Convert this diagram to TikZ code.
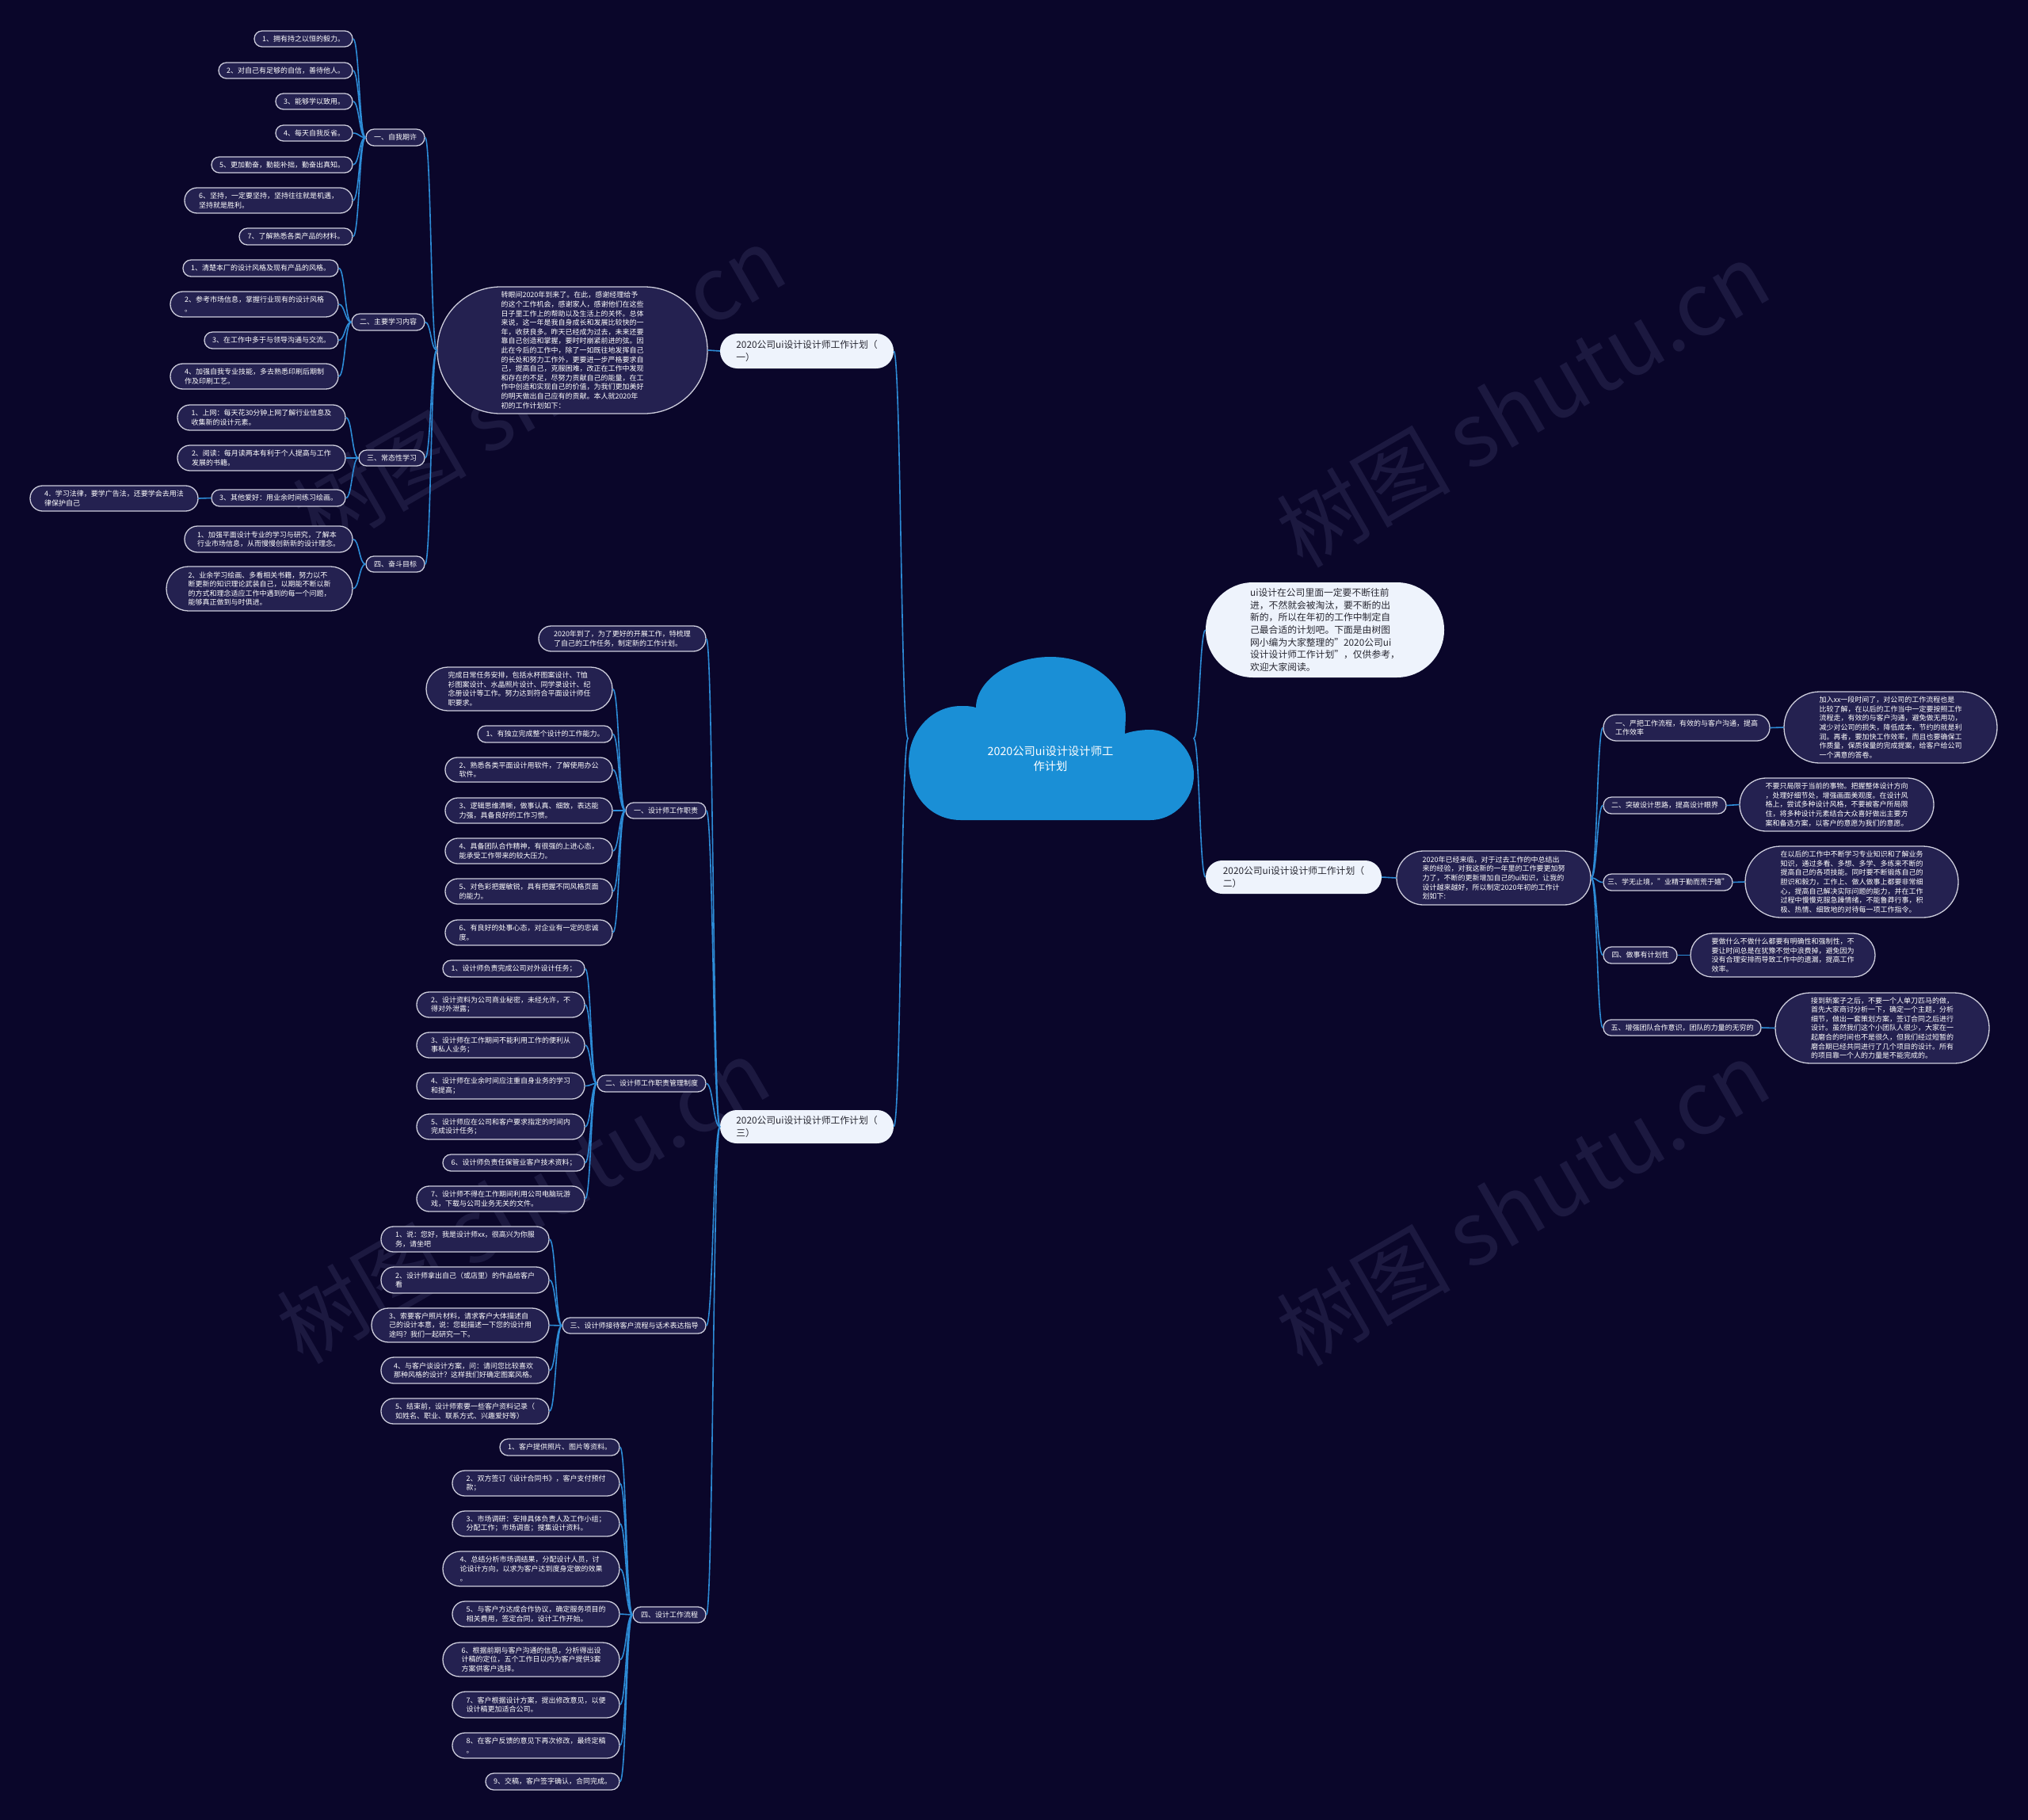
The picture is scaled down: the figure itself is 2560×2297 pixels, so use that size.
\documentclass[tikz,border=0pt]{standalone}
\usepackage{fontspec}
\setmainfont{Noto Sans CJK SC}
\usetikzlibrary{calc}
\definecolor{bg}{RGB}{10,6,42}
\definecolor{leaffill}{RGB}{36,33,80}
\definecolor{leafdraw}{RGB}{205,205,220}
\definecolor{conncol}{RGB}{45,140,215}
\definecolor{whitefill}{RGB}{238,243,252}
\definecolor{darktext}{RGB}{40,40,50}
\definecolor{cloudcol}{RGB}{26,143,214}
\definecolor{wmcol}{RGB}{28,25,64}
\tikzset{
 leaf/.style={draw=leafdraw, line width=1.3pt, fill=leaffill, text=white, align=left, inner xsep=2pt, inner ysep=1pt, font=\fontsize{9}{11.6}\selectfont},
 wbox/.style={draw=none, fill=whitefill, text=darktext, align=left, inner xsep=2pt, inner ysep=1pt, font=\fontsize{11.8}{15.7}\selectfont},
 conn/.style={draw=conncol, line width=1.6pt},
 wmark/.style={rotate=30, text=wmcol, font=\fontsize{110}{110}\selectfont},
}
\newcommand\pill[7]{%
  \pgfmathsetmacro\pw{#5-#3}%
  \pgfmathsetmacro\ph{#6-#4}%
  \pgfmathsetmacro\pr{\ph/2-0.2}%
  \pgfmathsetmacro\pcx{(#3+#5)/2}%
  \pgfmathsetmacro\pcy{(#4+#6)/2}%
  \node[#2, minimum width=\pw pt, minimum height=\ph pt, rounded corners=\pr pt] (#1) at (\pcx,\pcy) {#7};}
\newcommand\mmconn[2]{\draw[conn] let \p1=(#1), \p2=(#2) in (\p1) .. controls ({0.5*\x1+0.5*\x2},\y1) and ({0.5*\x1+0.5*\x2},\y2) .. (\p2);}
\begin{document}
\begin{tikzpicture}[x=1pt,y=-1pt]
\useasboundingbox (0,0) rectangle (2560,2297);
\fill[bg] (0,0) rectangle (2560,2297);
% watermarks
\node[wmark] (wm1) at (680,490) {树图 shutu.cn};
\node[wmark] (wm2) at (1922,510) {树图 shutu.cn};
\node[wmark] (wm3) at (660,1515) {树图 shutu.cn};
\node[wmark] (wm4) at (1922,1518) {树图 shutu.cn};

% cloud
\fill[cloudcol] (1213,1035) -- (1452,1035)
  .. controls (1482,1035) and (1507,1009) .. (1507,978)
  .. controls (1507,947) and (1482,921) .. (1452,921)
  .. controls (1440,921) and (1428,923) .. (1420,926)
  -- (1421,905)
  .. controls (1421,863) and (1378,829) .. (1326,829)
  .. controls (1274,829) and (1232,860) .. (1232,893)
  .. controls (1225,891) and (1220,891) .. (1213,891)
  .. controls (1176,891) and (1147,923) .. (1147,962)
  .. controls (1147,1002) and (1173,1035) .. (1213,1035) -- cycle;
\node[minimum width=360pt, minimum height=206pt, inner sep=0pt] (root) at (1326.5,932) {};
\node[text=white, align=center, font=\fontsize{14.3}{19}\selectfont] (roottext) at (1326,958) {2020公司ui设计设计师工\\作计划};

% ---------- plan 1 ----------
\pill{P1}{wbox}{909}{421}{1128}{465}{2020公司ui设计设计师工作计划（\\一）}
\pill{pA}{leaf}{552}{362}{893}{522}{转眼间2020年到来了。在此，感谢经理给予\\的这个工作机会，感谢家人，感谢他们在这些\\日子里工作上的帮助以及生活上的关怀。总体\\来说，这一年是我自身成长和发展比较快的一\\年，收获良多。昨天已经成为过去，未来还要\\靠自己创造和掌握，要时时崩紧前进的弦。因\\此在今后的工作中，除了一如既往地发挥自己\\的长处和努力工作外，更要进一步严格要求自\\己，提高自己，克服困难，改正在工作中发现\\和存在的不足，尽努力贡献自己的能量，在工\\作中创造和实现自己的价值，为我们更加美好\\的明天做出自己应有的贡献。本人就2020年\\初的工作计划如下：}

\pill{a1}{leaf}{462}{163}{536}{184}{一、自我期许}
\pill{a1a}{leaf}{321}{39}{445}{59}{1、拥有持之以恒的毅力。}
\pill{a1b}{leaf}{276}{79}{445}{99}{2、对自己有足够的自信，善待他人。}
\pill{a1c}{leaf}{348}{118}{445}{138}{3、能够学以致用。}
\pill{a1d}{leaf}{348}{158}{445}{178}{4、每天自我反省。}
\pill{a1e}{leaf}{267}{198}{445}{218}{5、更加勤奋，勤能补拙，勤奋出真知。}
\pill{a1f}{leaf}{233}{237}{445}{269}{6、坚持，一定要坚持，坚持往往就是机遇，\\坚持就是胜利。}
\pill{a1g}{leaf}{302}{288}{445}{309}{7、了解熟悉各类产品的材料。}

\pill{a2}{leaf}{444}{396}{536}{417}{二、主要学习内容}
\pill{a2a}{leaf}{231}{328}{427}{349}{1、清楚本厂的设计风格及现有产品的风格。}
\pill{a2b}{leaf}{215}{368}{427}{400}{2、参考市场信息，掌握行业现有的设计风格\\。}
\pill{a2c}{leaf}{258}{419}{427}{440}{3、在工作中多于与领导沟通与交流。}
\pill{a2d}{leaf}{215}{459}{427}{491}{4、加强自我专业技能，多去熟悉印刷后期制\\作及印刷工艺。}

\pill{a3}{leaf}{453}{568}{536}{588}{三、常态性学习}
\pill{a3a}{leaf}{224}{511}{436}{543}{1、上网：每天花30分钟上网了解行业信息及\\收集新的设计元素。}
\pill{a3b}{leaf}{224}{562}{436}{594}{2、阅读：每月读两本有利于个人提高与工作\\发展的书籍。}
\pill{a3c}{leaf}{267}{618}{436}{639}{3、其他爱好：用业余时间练习绘画。}
\pill{a3d}{leaf}{38}{613}{250}{645}{4．学习法律，要学广告法，还要学会去用法\\律保护自己}

\pill{a4}{leaf}{462}{702}{536}{722}{四、奋斗目标}
\pill{a4a}{leaf}{233}{664}{445}{697}{1、加强平面设计专业的学习与研究，了解本\\行业市场信息，从而慢慢创新新的设计理念。}
\pill{a4b}{leaf}{210}{715}{445}{771}{2、业余学习绘画、多看相关书籍，努力以不\\断更新的知识理论武装自己，以期能不断以新\\的方式和理念适应工作中遇到的每一个问题，\\能够真正做到与时俱进。}

% ---------- right ----------
\pill{uiN}{wbox}{1522}{735}{1823}{855}{ui设计在公司里面一定要不断往前\\进，不然就会被淘汰，要不断的出\\新的，所以在年初的工作中制定自\\己最合适的计划吧。下面是由树图\\网小编为大家整理的"2020公司ui\\设计设计师工作计划"，仅供参考，\\欢迎大家阅读。}
\pill{P2}{wbox}{1522}{1086}{1744}{1128}{2020公司ui设计设计师工作计划（\\二）}
\pill{pB}{leaf}{1763}{1074}{2008}{1142}{2020年已经来临，对于过去工作的中总结出\\来的经验，对我这新的一年里的工作要更加努\\力了，不断的更新增加自己的ui知识，让我的\\设计越来越好，所以制定2020年初的工作计\\划如下:}
\pill{b1}{leaf}{2024}{902}{2234}{935}{一、严把工作流程，有效的与客户沟通，提高\\工作效率}
\pill{b1d}{leaf}{2252}{873}{2521}{963}{加入xx一段时间了，对公司的工作流程也是\\比较了解，在以后的工作当中一定要按照工作\\流程走，有效的与客户沟通，避免做无用功，\\减少对公司的损失，降低成本，节约的就是利\\润。再者，要加快工作效率，而且也要确保工\\作质量，保质保量的完成提案，给客户给公司\\一个满意的答卷。}
\pill{b2}{leaf}{2024}{1006}{2179}{1027}{二、突破设计思路，提高设计眼界}
\pill{b2d}{leaf}{2196}{982}{2441}{1049}{不要只局限于当前的事物。把握整体设计方向\\，处理好细节处，增强画面美观度。在设计风\\格上，尝试多种设计风格，不要被客户所局限\\住，将多种设计元素结合大众喜好做出主要方\\案和备选方案，以客户的意愿为我们的意愿。}
\pill{b3}{leaf}{2024}{1103}{2187}{1124}{三、学无止境，"业精于勤而荒于嬉"}
\pill{b3d}{leaf}{2203}{1068}{2472}{1158}{在以后的工作中不断学习专业知识和了解业务\\知识，通过多看、多想、多学、多练来不断的\\提高自己的各项技能。同时要不断锻炼自己的\\胆识和毅力，工作上、做人做事上都要非常细\\心，提高自己解决实际问题的能力，并在工作\\过程中慢慢克服急躁情绪，不能鲁莽行事，积\\极、热情、细致地的对待每一项工作指令。}
\pill{b4}{leaf}{2024}{1195}{2117}{1216}{四、做事有计划性}
\pill{b4d}{leaf}{2134}{1178}{2367}{1233}{要做什么不做什么都要有明确性和强制性，不\\要让时间总是在犹豫不觉中浪费掉，避免因为\\没有合理安排而导致工作中的遗漏，提高工作\\效率。}
\pill{b5}{leaf}{2024}{1287}{2223}{1307}{五、增强团队合作意识，团队的力量的无穷的}
\pill{b5d}{leaf}{2241}{1253}{2511}{1342}{接到新案子之后，不要一个人单刀匹马的做，\\首先大家商讨分析一下，确定一个主题，分析\\细节，做出一套策划方案，签订合同之后进行\\设计。虽然我们这个小团队人很少，大家在一\\起磨合的时间也不是很久，但我们经过短暂的\\磨合期已经共同进行了几个项目的设计。所有\\的项目靠一个人的力量是不能完成的。}

% ---------- plan 3 ----------
\pill{P3}{wbox}{909}{1401}{1128}{1443}{2020公司ui设计设计师工作计划（\\三）}
\pill{c0}{leaf}{680}{790}{891}{822}{2020年到了，为了更好的开展工作，特梳理\\了自己的工作任务，制定新的工作计划。}
\pill{c1}{leaf}{790}{1013}{891}{1033}{一、设计师工作职责}
\pill{c1a}{leaf}{538}{842}{773}{897}{完成日常任务安排，包括水杯图案设计、T恤\\衫图案设计、水晶照片设计、同学录设计、纪\\念册设计等工作。努力达到符合平面设计师任\\职要求。}
\pill{c1b}{leaf}{603}{916}{773}{937}{1、有独立完成整个设计的工作能力。}
\pill{c1c}{leaf}{562}{956}{773}{987}{2、熟悉各类平面设计用软件，了解使用办公\\软件。}
\pill{c1d}{leaf}{562}{1007}{773}{1039}{3、逻辑思维清晰，做事认真、细致，表达能\\力强，具备良好的工作习惯。}
\pill{c1e}{leaf}{562}{1058}{773}{1090}{4、具备团队合作精神，有很强的上进心态，\\能承受工作带来的较大压力。}
\pill{c1f}{leaf}{562}{1109}{773}{1141}{5、对色彩把握敏锐，具有把握不同风格页面\\的能力。}
\pill{c1g}{leaf}{562}{1161}{773}{1193}{6、有良好的处事心态，对企业有一定的忠诚\\度。}

\pill{c2}{leaf}{754}{1357}{891}{1378}{二、设计师工作职责管理制度}
\pill{c2a}{leaf}{559}{1212}{738}{1233}{1、设计师负责完成公司对外设计任务；}
\pill{c2b}{leaf}{526}{1252}{738}{1284}{2、设计资料为公司商业秘密，未经允许，不\\得对外泄露；}
\pill{c2c}{leaf}{526}{1303}{738}{1335}{3、设计师在工作期间不能利用工作的便利从\\事私人业务；}
\pill{c2d}{leaf}{526}{1354}{738}{1387}{4、设计师在业余时间应注重自身业务的学习\\和提高；}
\pill{c2e}{leaf}{526}{1406}{738}{1438}{5、设计师应在公司和客户要求指定的时间内\\完成设计任务；}
\pill{c2f}{leaf}{559}{1457}{738}{1478}{6、设计师负责任保管业客户技术资料；}
\pill{c2g}{leaf}{526}{1497}{738}{1529}{7、设计师不得在工作期间利用公司电脑玩游\\戏，下载与公司业务无关的文件。}

\pill{c3}{leaf}{710}{1663}{891}{1683}{三、设计师接待客户流程与话术表达指导}
\pill{c3a}{leaf}{481}{1548}{693}{1580}{1、说：您好，我是设计师xx，很高兴为你服\\务，请坐吧}
\pill{c3b}{leaf}{481}{1599}{693}{1632}{2、设计师拿出自己（或店里）的作品给客户\\看}
\pill{c3c}{leaf}{469}{1651}{693}{1694}{3、索要客户照片材料，请求客户大体描述自\\己的设计本意，说：您能描述一下您的设计用\\途吗？我们一起研究一下。}
\pill{c3d}{leaf}{481}{1713}{693}{1746}{4、与客户谈设计方案，问：请问您比较喜欢\\那种风格的设计？这样我们好确定图案风格。}
\pill{c3e}{leaf}{481}{1765}{693}{1797}{5、结束前，设计师索要一些客户资料记录（\\如姓名、职业、联系方式、兴趣爱好等）}

\pill{c4}{leaf}{799}{2028}{891}{2048}{四、设计工作流程}
\pill{c4a}{leaf}{631}{1816}{782}{1837}{1、客户提供照片、图片等资料。}
\pill{c4b}{leaf}{571}{1856}{782}{1888}{2、双方签订《设计合同书》，客户支付预付\\款；}
\pill{c4c}{leaf}{571}{1907}{782}{1939}{3、市场调研：安排具体负责人及工作小组；\\分配工作；市场调查；搜集设计资料。}
\pill{c4d}{leaf}{559}{1958}{782}{2002}{4、总结分析市场调结果，分配设计人员，讨\\论设计方向，以求为客户达到度身定做的效果\\。}
\pill{c4e}{leaf}{571}{2021}{782}{2053}{5、与客户方达成合作协议，确定服务项目的\\相关费用，签定合同，设计工作开始。}
\pill{c4f}{leaf}{559}{2073}{782}{2116}{6、根据前期与客户沟通的信息，分析得出设\\计稿的定位，五个工作日以内为客户提供3套\\方案供客户选择。}
\pill{c4g}{leaf}{571}{2135}{782}{2168}{7、客户根据设计方案，提出修改意见，以便\\设计稿更加适合公司。}
\pill{c4h}{leaf}{571}{2187}{782}{2219}{8、在客户反馈的意见下再次修改，最终定稿\\。}
\pill{c4i}{leaf}{613}{2238}{782}{2259}{9、交稿，客户签字确认，合同完成。}

% ---------- connectors ----------
\mmconn{root.west}{P1.east}
\mmconn{root.west}{P3.east}
\mmconn{root.east}{uiN.west}
\mmconn{root.east}{P2.west}
\mmconn{P1.west}{pA.east}
\foreach \h in {a1,a2,a3,a4}{\mmconn{pA.west}{\h.east}}
\foreach \c in {a1a,a1b,a1c,a1d,a1e,a1f,a1g}{\mmconn{a1.west}{\c.east}}
\foreach \c in {a2a,a2b,a2c,a2d}{\mmconn{a2.west}{\c.east}}
\foreach \c in {a3a,a3b,a3c}{\mmconn{a3.west}{\c.east}}
\mmconn{a3c.west}{a3d.east}
\foreach \c in {a4a,a4b}{\mmconn{a4.west}{\c.east}}
\mmconn{P2.east}{pB.west}
\foreach \h in {b1,b2,b3,b4,b5}{\mmconn{pB.east}{\h.west}\mmconn{\h.east}{\h d.west}}
\foreach \h in {c0,c1,c2,c3,c4}{\mmconn{P3.west}{\h.east}}
\foreach \c in {c1a,c1b,c1c,c1d,c1e,c1f,c1g}{\mmconn{c1.west}{\c.east}}
\foreach \c in {c2a,c2b,c2c,c2d,c2e,c2f,c2g}{\mmconn{c2.west}{\c.east}}
\foreach \c in {c3a,c3b,c3c,c3d,c3e}{\mmconn{c3.west}{\c.east}}
\foreach \c in {c4a,c4b,c4c,c4d,c4e,c4f,c4g,c4h,c4i}{\mmconn{c4.west}{\c.east}}
\end{tikzpicture}
\end{document}
